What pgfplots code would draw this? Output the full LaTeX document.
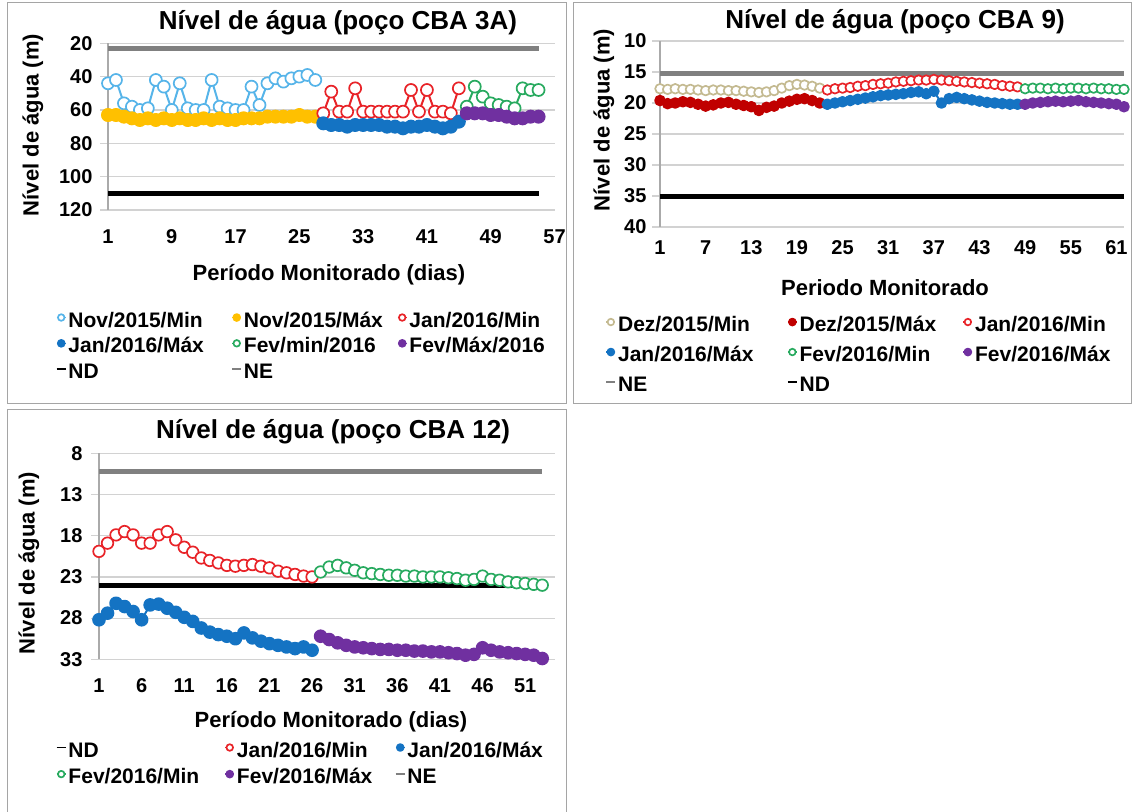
\documentclass[border=0pt]{standalone}
\usepackage{fontspec}
\setmainfont{Liberation Sans}
\usepackage{pgfplots}
\pgfplotsset{compat=1.18}

\definecolor{cLblue}{RGB}{86,180,233}
\definecolor{cGold}{RGB}{255,192,0}
\definecolor{cRed}{RGB}{232,35,40}
\definecolor{cBlue}{RGB}{20,115,195}
\definecolor{cGreen}{RGB}{40,170,95}
\definecolor{cPurple}{RGB}{112,48,160}
\definecolor{cDkRed}{RGB}{192,0,0}
\definecolor{cTan}{RGB}{196,186,145}
\definecolor{cNE}{RGB}{128,128,128}
\definecolor{cGrid}{RGB}{210,210,210}
\definecolor{cAxis}{RGB}{170,170,170}
\definecolor{cFrame}{RGB}{165,165,165}

\newcommand\fs[1]{\fontsize{#1}{#1}\selectfont\bfseries}
% legend entry in a fixed-width box
\newcommand\lk[2]{\makebox[#1][l]{\hspace{2pt}#2}}

\pgfplotsset{
  panel/.style={
    scale only axis, anchor=center, clip=false,
    y dir=reverse,
    axis line style={draw=none},
    ymajorgrids, major grid style={draw=cGrid, line width=1.2pt},
    tick align=outside, major tick length=8pt,
    ytick pos=left, ytick style={draw=cGrid, line width=1.2pt},
    xtick pos=left, xtick style={draw=none},
    tick label style={font=\fs{20}},
    /pgf/number format/assume math mode=true,
    /pgf/number format/1000 sep={},
    extra x ticks={1}, extra x tick labels={},
    extra x tick style={grid=major, major grid style={draw=cAxis, line width=1.2pt}, major tick length=0pt},
    legend cell align=left,
    legend columns=3,
    legend style={draw=none, fill=none, inner sep=0pt, outer sep=0pt, anchor=north west,
      nodes={inner sep=0pt, outer sep=0pt, text height=16pt, text depth=5pt},
      column sep=0pt, font=\fs{21}},
    legend image code/.code={
      \draw[line width=1.5pt,##1] (0pt,4pt) -- (9pt,4pt);
      \draw[##1, mark size=3.3pt] plot coordinates {(4.5pt,4pt)};
    },
  },
  openc/.style={color=#1, line width=2pt, line join=round, mark=*,
    mark options={fill=white, draw=#1, line width=1.7pt, solid}},
  fillc/.style={color=#1, line width=2pt, line join=round, mark=*,
    mark options={fill=#1, draw=#1, solid}},
  level/.style={color=#1, line width=5pt, mark=none},
}

\begin{document}
\begin{tikzpicture}
\path[use as bounding box] (0,0) rectangle (1134pt,-811pt);

% panel frames
\draw[cFrame, line width=1pt] (7.5pt,-2.5pt) rectangle (566.5pt,-403.5pt);
\draw[cFrame, line width=1pt] (573.5pt,-2.5pt) rectangle (1131pt,-403.5pt);
\draw[cFrame, line width=1pt] (7.5pt,-815pt) -- (7.5pt,-409.5pt) -- (566.5pt,-409.5pt) -- (566.5pt,-815pt);

% ---------------- CBA 3A ----------------
\begin{axis}[panel, at={(331.25pt,-126.65pt)}, width=446.5pt, height=166.7pt,
  xmin=1, xmax=57, ymin=20, ymax=120,
  xtick={1,9,...,57}, ytick={20,40,...,120},
  xticklabel style={yshift=-8pt}, yticklabel style={xshift=-4pt},
  every axis plot/.append style={mark size=6pt},
  legend style={at={(axis description cs:-0.1165,-0.606)}, row sep=4.8pt}]
\addplot[openc=cLblue] coordinates {(1,44)(2,42)(3,56)(4,58)(5,60)(6,59)(7,42)(8,46)(9,60)(10,44)
  (11,59)(12,60)(13,60)(14,42)(15,58)(16,59)(17,60)(18,60)(19,46)(20,57)(21,44)(22,41)(23,43)
  (24,41)(25,40)(26,39)(27,42)};
\addplot[fillc=cGold] coordinates {(1,63)(2,63)(3,64)(4,65)(5,66)(6,65)(7,66)(8,65)(9,66)(10,65)
  (11,66)(12,66)(13,65)(14,66)(15,65)(16,66)(17,66)(18,65)(19,65)(20,65)(21,64)(22,64)(23,64)
  (24,64)(25,63)(26,64)(27,64)};
\addplot[openc=cRed] coordinates {(28,62)(29,49)(30,61)(31,61)(32,47)(33,61)(34,61)(35,61)(36,61)
  (37,61)(38,61)(39,48)(40,61)(41,48)(42,61)(43,61)(44,62)(45,47)};
\addplot[fillc=cBlue] coordinates {(28,68)(29,69)(30,69)(31,70)(32,69)(33,69)(34,69)(35,69)(36,70)
  (37,70)(38,71)(39,70)(40,70)(41,69)(42,70)(43,71)(44,70)(45,67)};
\addplot[openc=cGreen] coordinates {(46,58)(47,46)(48,52)(49,56)(50,57)(51,58)(52,59)(53,47)(54,48)(55,48)};
\addplot[fillc=cPurple] coordinates {(46,62)(47,62)(48,62)(49,63)(50,63)(51,64)(52,65)(53,65)(54,64)(55,64)};
\addplot[level=black] coordinates {(1,110)(55,110)};
\addplot[level=cNE] coordinates {(1,23)(55,23)};
\legend{\lk{165pt}{Nov/2015/Min},\lk{155pt}{Nov/2015/Máx},\lk{150pt}{Jan/2016/Min},
  \lk{165pt}{Jan/2016/Máx},\lk{155pt}{Fev/min/2016},\lk{150pt}{Fev/Máx/2016},
  \lk{165pt}{ND},\lk{155pt}{NE}}
\end{axis}
\node[font=\fs{26}] at (338pt,-23pt) {Nível de água (poço CBA 3A)};
\node[font=\fs{22}, rotate=90] at (33pt,-125pt) {Nível de água (m)};
\node[font=\fs{22}] at (329pt,-275pt) {Período Monitorado (dias)};

% ---------------- CBA 9 ----------------
\begin{axis}[panel, at={(892pt,-134pt)}, width=464pt, height=186pt,
  xmin=1, xmax=62, ymin=10, ymax=40,
  xtick={1,7,...,61}, ytick={10,15,...,40},
  xticklabel style={yshift=-2pt}, yticklabel style={xshift=-2pt},
  every axis plot/.append style={mark size=4.8pt},
  legend style={at={(axis description cs:-0.1172,-0.476)}, row sep=9pt}]
\addplot[openc=cTan] coordinates {(1,17.7)(2,17.8)(3,17.7)(4,17.8)(5,17.8)(6,17.9)(7,18.0)(8,17.9)
  (9,17.9)(10,18.0)(11,18.0)(12,18.1)(13,18.2)(14,18.3)(15,18.2)(16,18.0)(17,17.6)(18,17.2)(19,17.0)
  (20,17.1)(21,17.3)(22,17.6)};
\addplot[fillc=cDkRed] coordinates {(1,19.6)(2,20.1)(3,20.0)(4,19.8)(5,19.9)(6,20.2)(7,20.5)(8,20.3)
  (9,20.0)(10,19.9)(11,20.2)(12,20.4)(13,20.6)(14,21.2)(15,20.7)(16,20.5)(17,20.0)(18,19.7)(19,19.4)
  (20,19.3)(21,19.6)(22,20.0)};
\addplot[openc=cRed] coordinates {(23,17.9)(24,17.7)(25,17.6)(26,17.5)(27,17.3)(28,17.2)(29,17.0)
  (30,16.9)(31,16.8)(32,16.6)(33,16.5)(34,16.4)(35,16.3)(36,16.3)(37,16.2)(38,16.3)(39,16.4)(40,16.5)
  (41,16.6)(42,16.7)(43,16.8)(44,16.9)(45,17.0)(46,17.2)(47,17.3)(48,17.4)};
\addplot[fillc=cBlue] coordinates {(23,20.2)(24,20.0)(25,19.8)(26,19.6)(27,19.4)(28,19.2)(29,19.0)
  (30,18.8)(31,18.7)(32,18.6)(33,18.5)(34,18.3)(35,18.2)(36,18.5)(37,18.1)(38,20.0)(39,19.3)(40,19.1)
  (41,19.3)(42,19.5)(43,19.7)(44,19.9)(45,20.0)(46,20.1)(47,20.2)(48,20.2)};
\addplot[openc=cGreen] coordinates {(49,17.7)(50,17.6)(51,17.6)(52,17.7)(53,17.6)(54,17.7)(55,17.6)
  (56,17.6)(57,17.7)(58,17.6)(59,17.7)(60,17.7)(61,17.8)(62,17.8)};
\addplot[fillc=cPurple] coordinates {(49,20.2)(50,20.0)(51,19.9)(52,19.8)(53,19.7)(54,19.8)(55,19.7)
  (56,19.6)(57,19.8)(58,19.9)(59,20.0)(60,20.1)(61,20.2)(62,20.6)};
\addplot[level=cNE] coordinates {(1,15.2)(62,15.2)};
\addplot[level=black] coordinates {(1,35)(62,35)};
\legend{\lk{171pt}{Dez/2015/Min},\lk{165pt}{Dez/2015/Máx},\lk{150pt}{Jan/2016/Min},
  \lk{171pt}{Jan/2016/Máx},\lk{165pt}{Fev/2016/Min},\lk{150pt}{Fev/2016/Máx},
  \lk{171pt}{NE},\lk{165pt}{ND}}
\end{axis}
\node[font=\fs{26}] at (895pt,-22pt) {Nível de água (poço CBA 9)};
\node[font=\fs{22}, rotate=90] at (604pt,-120pt) {Nível de água (m)};
\node[font=\fs{22}] at (885pt,-288pt) {Periodo Monitorado};

% ---------------- CBA 12 ----------------
\begin{axis}[panel, at={(327pt,-556.3pt)}, width=456pt, height=206pt,
  xmin=1, xmax=54.5, ymin=8, ymax=33,
  xtick={1,6,...,51}, ytick={8,13,...,33},
  xticklabel style={yshift=-8pt}, yticklabel style={xshift=-5pt},
  every axis plot/.append style={mark size=5.8pt},
  legend style={at={(axis description cs:-0.0943,-0.3966)}, row sep=5.6pt}]
\addplot[level=black] coordinates {(1,24)(53,24)};
\addplot[openc=cRed] coordinates {(1,19.9)(2,18.9)(3,17.9)(4,17.5)(5,17.9)(6,18.9)(7,18.9)(8,17.9)
  (9,17.5)(10,18.5)(11,19.4)(12,20.0)(13,20.7)(14,21.0)(15,21.3)(16,21.6)(17,21.7)(18,21.6)(19,21.5)
  (20,21.7)(21,21.9)(22,22.3)(23,22.5)(24,22.7)(25,22.9)(26,23.0)};
\addplot[fillc=cBlue] coordinates {(1,28.2)(2,27.4)(3,26.2)(4,26.6)(5,27.2)(6,28.2)(7,26.4)(8,26.3)
  (9,26.8)(10,27.3)(11,27.9)(12,28.4)(13,29.2)(14,29.7)(15,30.0)(16,30.2)(17,30.5)(18,29.8)(19,30.4)
  (20,30.8)(21,31.1)(22,31.3)(23,31.5)(24,31.7)(25,31.5)(26,31.9)};
\addplot[openc=cGreen] coordinates {(27,22.4)(28,21.8)(29,21.6)(30,21.9)(31,22.2)(32,22.5)(33,22.6)
  (34,22.7)(35,22.8)(36,22.8)(37,22.9)(38,22.9)(39,23.0)(40,23.0)(41,23.0)(42,23.1)(43,23.2)(44,23.4)
  (45,23.3)(46,22.9)(47,23.3)(48,23.4)(49,23.6)(50,23.7)(51,23.8)(52,23.9)(53,24.0)};
\addplot[fillc=cPurple] coordinates {(27,30.2)(28,30.6)(29,31.0)(30,31.3)(31,31.5)(32,31.6)(33,31.7)
  (34,31.8)(35,31.8)(36,31.9)(37,31.9)(38,32.0)(39,32.0)(40,32.1)(41,32.1)(42,32.2)(43,32.3)(44,32.5)
  (45,32.4)(46,31.6)(47,31.9)(48,32.1)(49,32.2)(50,32.3)(51,32.4)(52,32.5)(53,32.9)};
\addplot[level=cNE] coordinates {(1,10.2)(53,10.2)};
\legend{\lk{158pt}{ND},\lk{160pt}{Jan/2016/Min},\lk{150pt}{Jan/2016/Máx},
  \lk{158pt}{Fev/2016/Min},\lk{160pt}{Fev/2016/Máx},\lk{150pt}{NE}}
\end{axis}
\node[font=\fs{26}] at (333pt,-431.7pt) {Nível de água (poço CBA 12)};
\node[font=\fs{22}, rotate=90] at (29pt,-563pt) {Nível de água (m)};
\node[font=\fs{22}] at (331pt,-721.7pt) {Período Monitorado (dias)};
\end{tikzpicture}
\end{document}
